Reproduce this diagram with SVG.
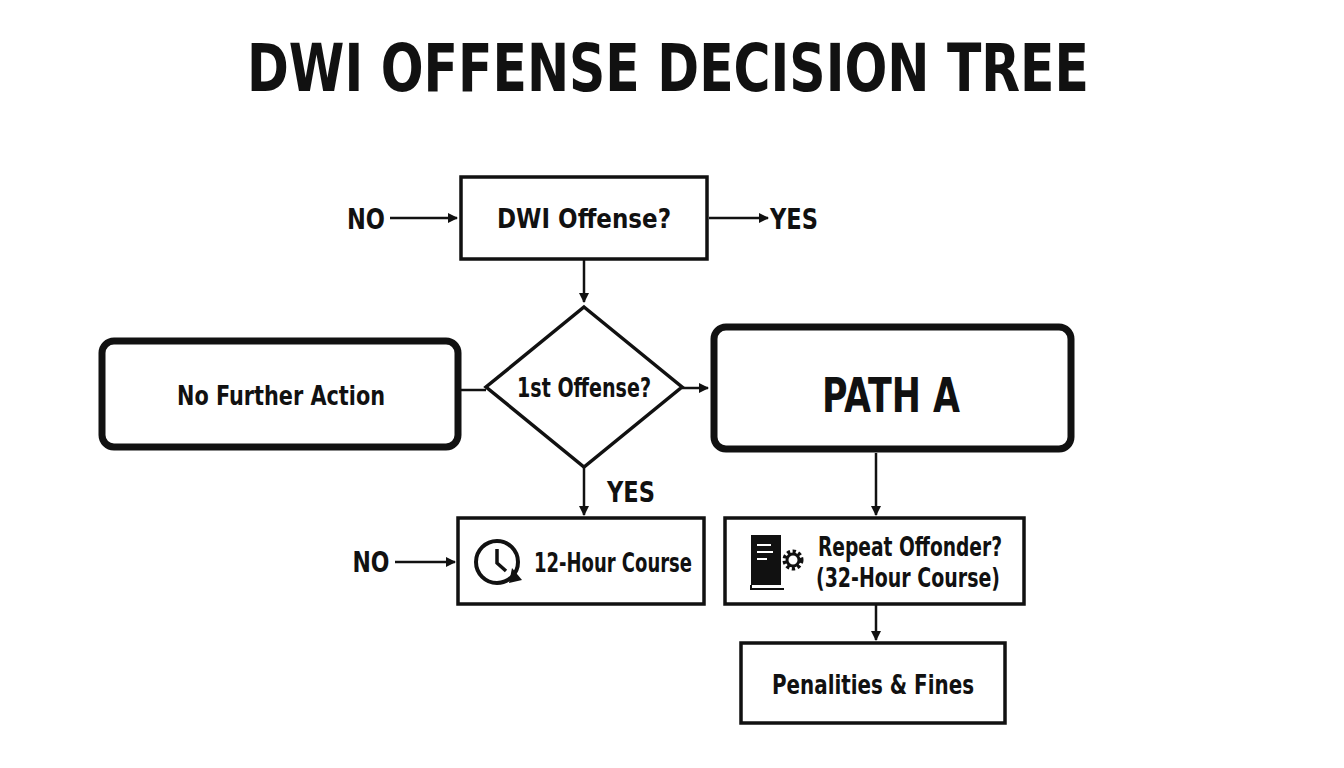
<svg xmlns="http://www.w3.org/2000/svg" width="1344" height="768" viewBox="0 0 1344 768">
<defs>
<marker id="ah" markerWidth="10" markerHeight="10" refX="9" refY="5" orient="auto" markerUnits="userSpaceOnUse"><path d="M0,0 L10,5 L0,10 Z" fill="#111"/></marker>
<style>
text{font-family:"DejaVu Sans Condensed","Liberation Sans Narrow","Liberation Sans",sans-serif;fill:#111;text-anchor:middle;dominant-baseline:central}
.b{fill:#fff;stroke:#111;stroke-width:3.5}
.r{fill:#fff;stroke:#111;stroke-width:7}
.c{stroke:#111;stroke-width:2.5;fill:none}
.t{font-size:27px;font-weight:bold}
.h{font-size:29px;font-weight:bold}
</style>
</defs>
<rect width="1344" height="768" fill="#fff"/>
<text x="668" y="68" font-size="66" font-weight="bold" textLength="842" lengthAdjust="spacingAndGlyphs">DWI OFFENSE DECISION TREE</text>
<g id="connectors">
<line class="c" x1="390" y1="218" x2="457" y2="218" marker-end="url(#ah)"/>
<line class="c" x1="709" y1="218" x2="768" y2="218" marker-end="url(#ah)"/>
<line class="c" x1="584" y1="260" x2="584" y2="302" marker-end="url(#ah)"/>
<line class="c" x1="459" y1="390" x2="486" y2="390"/>
<line class="c" x1="682" y1="388" x2="708" y2="388" marker-end="url(#ah)"/>
<line class="c" x1="584" y1="467" x2="584" y2="515" marker-end="url(#ah)"/>
<line class="c" x1="395" y1="562" x2="455" y2="562" marker-end="url(#ah)"/>
<line class="c" x1="876" y1="453" x2="876" y2="515" marker-end="url(#ah)"/>
<line class="c" x1="876" y1="605" x2="876" y2="640" marker-end="url(#ah)"/>
<text class="h" x="366" y="219" textLength="38" lengthAdjust="spacingAndGlyphs">NO</text>
<text class="h" x="794" y="219" textLength="48" lengthAdjust="spacingAndGlyphs">YES</text>
<text class="h" x="631" y="492" textLength="48" lengthAdjust="spacingAndGlyphs">YES</text>
<text class="h" x="371" y="562" textLength="37" lengthAdjust="spacingAndGlyphs">NO</text>
</g>
<g id="dwi"><rect class="b" x="461" y="177" width="246" height="82"/><text class="t" x="584" y="218" textLength="174" lengthAdjust="spacingAndGlyphs">DWI Offense?</text></g>
<g id="first"><polygon class="b" points="584,307 682,387 584,467 486,387"/><text class="t" x="584" y="387" font-size="25" textLength="134" lengthAdjust="spacingAndGlyphs">1st Offense?</text></g>
<g id="nfa"><rect class="r" x="102" y="341" width="356" height="106" rx="12"/><text class="t" x="281" y="395" textLength="208" lengthAdjust="spacingAndGlyphs">No Further Action</text></g>
<g id="patha"><rect class="r" x="714" y="327" width="357" height="122" rx="12"/><text x="891" y="395" font-size="48" font-weight="bold" textLength="138" lengthAdjust="spacingAndGlyphs">PATH A</text></g>
<g id="course12"><rect class="b" x="458" y="518" width="246" height="86"/>
<circle cx="497" cy="562" r="21" fill="none" stroke="#111" stroke-width="4"/>
<path d="M497,549 V563 L506,571" fill="none" stroke="#111" stroke-width="3.5"/>
<path d="M512,568 L522,580 L509,583 Z" fill="#111"/>
<text class="t" x="613" y="562" textLength="158" lengthAdjust="spacingAndGlyphs">12-Hour Course</text></g>
<g id="repeat"><rect class="b" x="725" y="518" width="299" height="86"/>
<path d="M751,535 h30 v50 h-30 Z" fill="#111"/>
<path d="M751,585 v4 h33" fill="none" stroke="#111" stroke-width="2"/>
<path d="M757,545 h14 M757,552 h16 M757,559 h10" stroke="#fff" stroke-width="2"/>
<circle cx="793" cy="560" r="8" fill="none" stroke="#111" stroke-width="5" stroke-dasharray="3 2.3"/>
<circle cx="793" cy="560" r="6" fill="none" stroke="#111" stroke-width="3"/>
<text class="t" x="910" y="546" textLength="184" lengthAdjust="spacingAndGlyphs">Repeat Offonder?</text>
<text class="t" x="908" y="577" textLength="184" lengthAdjust="spacingAndGlyphs">(32-Hour Course)</text></g>
<g id="penalties"><rect class="b" x="741" y="643" width="264" height="80"/><text class="t" x="873" y="684" textLength="202" lengthAdjust="spacingAndGlyphs">Penalities &amp; Fines</text></g>
</svg>
